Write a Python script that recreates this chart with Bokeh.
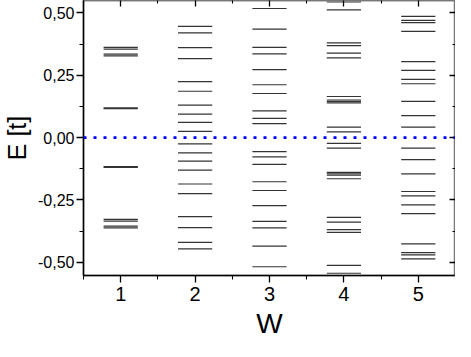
from bokeh.plotting import figure
from bokeh.models import (ColumnDataSource, Span, FixedTicker, LinearAxis,
                          CustomJSTickFormatter, Range1d)
from bokeh.embed import file_html
from bokeh.resources import INLINE

# Energy levels (positive half; spectrum is symmetric about E=0)
levels_w1 = [0.116, 0.119, 0.328, 0.335, 0.355, 0.362]
levels_w2 = [0.025, 0.061, 0.094, 0.130, 0.186, 0.225, 0.317, 0.361, 0.420, 0.446]
levels_w3 = [0.056, 0.077, 0.107, 0.177, 0.212, 0.273, 0.336, 0.362, 0.435, 0.518]
levels_w4 = [0.023, 0.042, 0.139, 0.145, 0.151, 0.165, 0.320, 0.339, 0.369,
             0.380, 0.512, 0.544]
levels_w5 = [0.042, 0.088, 0.145, 0.216, 0.234, 0.270, 0.305, 0.426, 0.461,
             0.470, 0.486]
w_values = [1, 2, 3, 4, 5]
x_ticks = [1, 2, 3, 4, 5]
y_ticks = [-0.5, -0.25, 0.0, 0.25, 0.5]

all_levels = [levels_w1, levels_w2, levels_w3, levels_w4, levels_w5]
half = 0.23
x0, x1, ys = [], [], []
for w, lv in zip(w_values, all_levels):
    for e in lv:
        for s in (1, -1):
            x0.append(w - half)
            x1.append(w + half)
            ys.append(s * e)
src = ColumnDataSource(dict(x0=x0, x1=x1, y=ys))

FONT = "Liberation Sans"
p = figure(width=455, height=341, output_backend="svg", toolbar_location=None,
           x_range=Range1d(0.5, 5.5), y_range=Range1d(-0.553, 0.55),
           x_axis_location=None, y_axis_location=None,
           min_border_left=0, min_border_right=0, min_border_top=0,
           min_border_bottom=0)
p.grid.visible = False
p.outline_line_color = "#777777"
p.outline_line_width = 1.5

p.segment(x0="x0", x1="x1", y0="y", y1="y", source=src,
          line_color="#333333", line_width=1.2)
p.add_layout(Span(location=0, dimension="width", line_color="#0000ff",
                  line_width=2.8, line_dash="3 7"))

xt = FixedTicker(ticks=x_ticks, minor_ticks=[0.5, 1.5, 2.5, 3.5, 4.5, 5.5])
yt = FixedTicker(ticks=y_ticks, minor_ticks=[-0.375, -0.125, 0.125, 0.375])
blank = CustomJSTickFormatter(code="return '';")

def style(ax):
    ax.axis_line_color = "black"
    ax.axis_line_width = 1.5
    ax.major_tick_line_color = "black"
    ax.minor_tick_line_color = "black"
    ax.major_tick_line_width = 1.3
    ax.minor_tick_line_width = 1.1
    ax.major_label_text_font = FONT
    ax.major_label_text_color = "black"
    ax.axis_label_text_font = FONT
    ax.axis_label_text_font_style = "normal"
    ax.axis_label_text_color = "black"

bx = LinearAxis(ticker=xt, axis_label="W")
style(bx)
bx.major_label_text_font_size = "20px"
bx.axis_label_text_font_size = "28px"
bx.major_tick_out = 7; bx.major_tick_in = 0
bx.minor_tick_out = 4; bx.minor_tick_in = 0
bx.major_label_standoff = 4
bx.axis_label_standoff = 4
p.add_layout(bx, "below")

ly = LinearAxis(ticker=yt, axis_label="E [t]",
                formatter=CustomJSTickFormatter(code="return tick.toFixed(2).replace('.', ',');"))
style(ly)
ly.major_label_text_font_size = "16px"
ly.axis_label_text_font_size = "25px"
ly.major_tick_out = 7; ly.major_tick_in = 0
ly.minor_tick_out = 4; ly.minor_tick_in = 0
ly.major_label_standoff = 2
ly.axis_label_standoff = 4
p.add_layout(ly, "left")

tx = LinearAxis(ticker=xt, formatter=blank)
style(tx)
tx.axis_line_color = "#777777"
tx.major_tick_out = 0; tx.major_tick_in = 6
tx.minor_tick_out = 0; tx.minor_tick_in = 3
tx.major_label_standoff = 0
p.add_layout(tx, "above")

ry = LinearAxis(ticker=yt, formatter=blank)
style(ry)
ry.axis_line_color = "#777777"
ry.major_tick_out = 0; ry.major_tick_in = 6
ry.minor_tick_out = 0; ry.minor_tick_in = 3
ry.major_label_standoff = 0
p.add_layout(ry, "right")

open("out.html", "w").write(file_html(p, INLINE))
